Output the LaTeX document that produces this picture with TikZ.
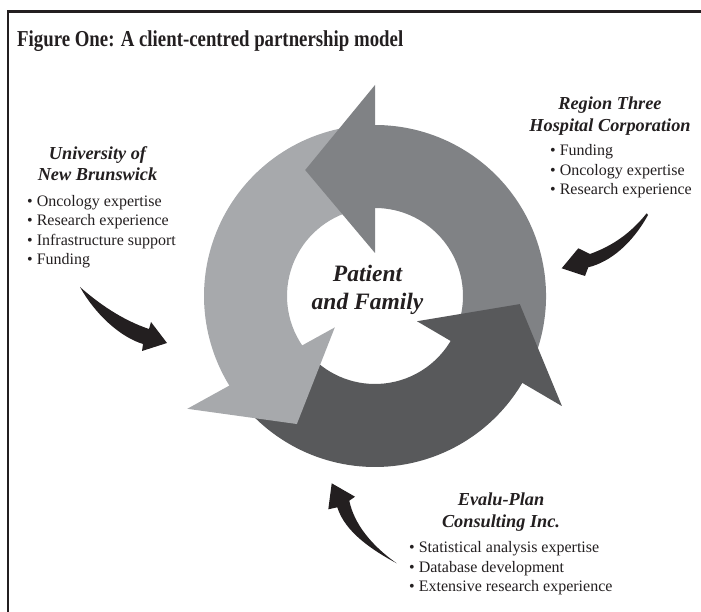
\documentclass[tikz,border=0pt]{standalone}
\usepackage{graphicx}
\usepackage{fontspec}
\setmainfont{Liberation Serif}
\usetikzlibrary{calc}
\definecolor{lightg}{HTML}{A7A9AC}
\definecolor{midg}{HTML}{808285}
\definecolor{darkg}{HTML}{58595B}
\definecolor{ink}{HTML}{231F20}
\begin{document}
\begin{tikzpicture}[x=1pt,y=1pt,
  heading/.style={font=\fontsize{18.3}{21}\selectfont\bfseries\itshape, anchor=base, inner sep=0pt, text=ink},
  item/.style={font=\fontsize{16}{19}\selectfont, anchor=base west, inner sep=0pt, text=ink},
  hub/.style={font=\fontsize{23.5}{28}\selectfont\bfseries\itshape, anchor=base, inner sep=0pt, text=ink},
  pointer/.style={fill=ink, draw=none}
]
\useasboundingbox (0,0) rectangle (701,612);
% frame
\draw[ink, line width=2.6pt] (701,600.7) -- (8,600.7) -- (8,0);
% title
\node[anchor=base west, inner sep=0pt, text=ink] (title) at (17,565)
  {\resizebox{386pt}{15.8pt}{\fontsize{23}{26}\selectfont\bfseries Figure One: A client-centred partnership model}};

% ring
\coordinate (C) at (375,316);
\def\Ro{171}
\def\Ri{88}
% bodies
\fill[lightg] ($(C)+(100:\Ro)$) arc[start angle=100,end angle=215,radius=\Ro] -- ($(C)+(215:\Ri)$) arc[start angle=215,end angle=100,radius=\Ri] -- cycle;
\fill[darkg] ($(C)+(220:\Ro)$) arc[start angle=220,end angle=332,radius=\Ro] -- ($(C)+(332:\Ri)$) arc[start angle=332,end angle=220,radius=\Ri] -- cycle;
\fill[midg] ($(C)+(-25:\Ro)$) arc[start angle=-25,end angle=92,radius=\Ro] -- ($(C)+(92:\Ri)$) arc[start angle=92,end angle=-25,radius=\Ri] -- cycle;
% heads
\fill[midg] ($(C)+(90:211)$) -- ($(C)+(119:144)$) -- ($(C)+(90:43)$) -- cycle;
\fill[lightg] ($(C)+(211:219)$) -- ($(C)+(238.6:150)$) -- ($(C)+(218:51)$) -- cycle;
\fill[darkg] ($(C)+(329.5:217)$) -- ($(C)+(356.8:145)$) -- ($(C)+(329:49)$) -- cycle;

% centre text
\node[hub] (pat1) at (367.5,330) {Patient};
\node[hub] (pat2) at (367.5,302.5) {and Family};

% University of New Brunswick
\node[heading] (unb1) at (97.5,452.7) {University of};
\node[heading] (unb2) at (97.5,431.3) {New Brunswick};
\node[item] (unbA) at (27,405) {• Oncology expertise};
\node[item] (unbB) at (27,386) {• Research experience};
\node[item] (unbC) at (27,366.5) {• Infrastructure support};
\node[item] (unbD) at (27,347.5) {• Funding};

% Region Three
\node[heading] (rth1) at (610,502) {Region Three};
\node[heading] (rth2) at (610,480.3) {Hospital Corporation};
\node[item] (rthA) at (550,456) {• Funding};
\node[item] (rthB) at (550,436.3) {• Oncology expertise};
\node[item] (rthC) at (550,417) {• Research experience};

% Evalu-Plan
\node[heading] (evp1) at (501,106.2) {Evalu-Plan};
\node[heading] (evp2) at (501,84.7) {Consulting Inc.};
\node[item] (evpA) at (409,59) {• Statistical analysis expertise};
\node[item] (evpB) at (409,39.5) {• Database development};
\node[item] (evpC) at (409,20) {• Extensive research experience};

% small black arrows
\fill[pointer] (80,325) .. controls (98,309) and (122,292) .. (149,283)
  -- (151,290) -- (167,269) -- (142,261) -- (143,268)
  .. controls (120,275) and (95,298) .. (80,325) -- cycle;
\fill[pointer] (646.7,398.7) .. controls (630,378) and (612,366) .. (590,358)
  -- (578.3,363.7) -- (561.7,343.7) -- (585,336) -- (588.3,344.7)
  .. controls (610,350) and (632,368) .. (648,397) -- cycle;
\fill[pointer] (396.7,48.7) .. controls (372,62) and (345,80) .. (337.3,104.7)
  -- (328.3,102.7) -- (331.7,128.7) -- (355,115.3) -- (349.3,111.3)
  .. controls (354,88) and (372,66) .. (396.7,48.7) -- cycle;
\end{tikzpicture}
\end{document}
